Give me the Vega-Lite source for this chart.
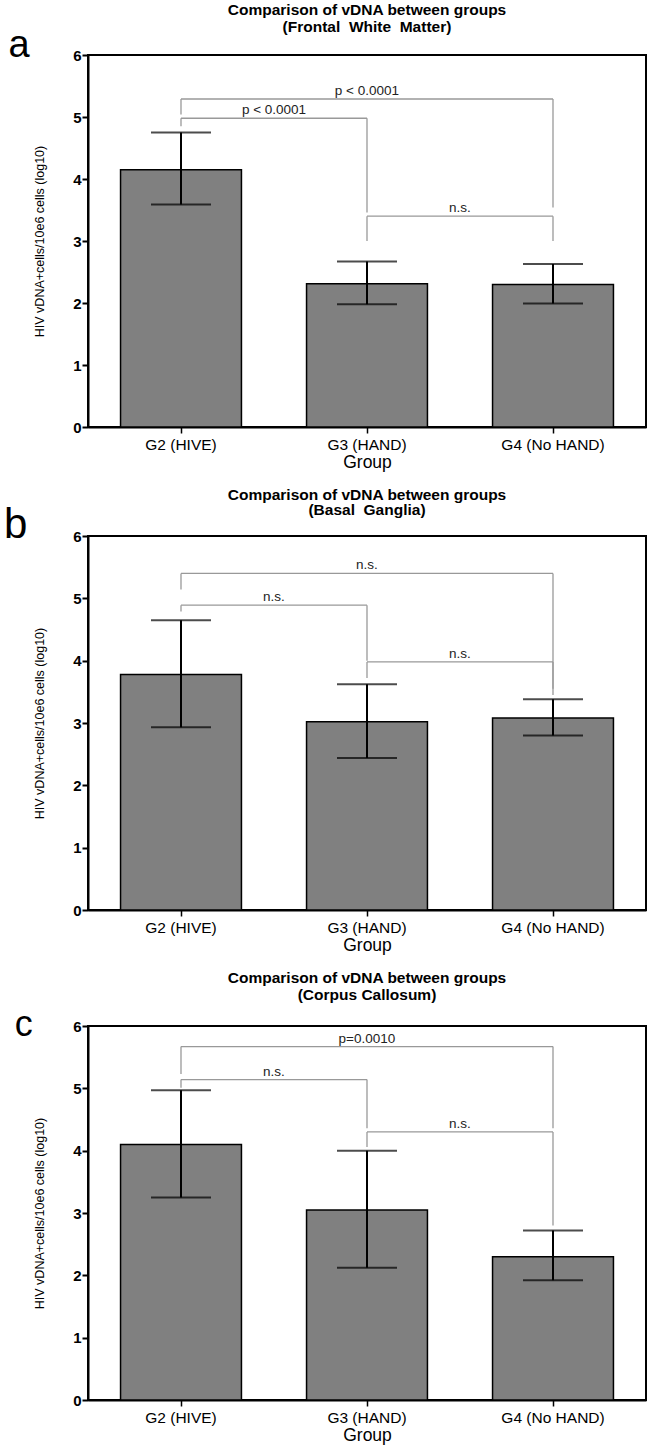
{
  "$schema": "https://vega.github.io/schema/vega-lite/v6.json",
  "padding": {"left": 3, "top": 1, "right": 5, "bottom": 1},
  "spacing": 14,
  "datasets": {
    "bars": [
      {"panel": "a", "group": "G2 (HIVE)", "mean": 4.15, "lo": 3.59, "hi": 4.75},
      {"panel": "a", "group": "G3 (HAND)", "mean": 2.31, "lo": 1.98, "hi": 2.67},
      {"panel": "a", "group": "G4 (No HAND)", "mean": 2.30, "lo": 1.99, "hi": 2.63},
      {"panel": "b", "group": "G2 (HIVE)", "mean": 3.78, "lo": 2.93, "hi": 4.65},
      {"panel": "b", "group": "G3 (HAND)", "mean": 3.02, "lo": 2.44, "hi": 3.62},
      {"panel": "b", "group": "G4 (No HAND)", "mean": 3.08, "lo": 2.80, "hi": 3.38},
      {"panel": "c", "group": "G2 (HIVE)", "mean": 4.10, "lo": 3.25, "hi": 4.97},
      {"panel": "c", "group": "G3 (HAND)", "mean": 3.05, "lo": 2.12, "hi": 4.00},
      {"panel": "c", "group": "G4 (No HAND)", "mean": 2.30, "lo": 1.92, "hi": 2.72}
    ],
    "brackets": [
      {"panel": "a", "from": "G2 (HIVE)", "to": "G3 (HAND)", "span": 1, "level": 4.98, "fromEnd": 4.85, "toEnd": 3.46, "label": "p < 0.0001"},
      {"panel": "a", "from": "G2 (HIVE)", "to": "G4 (No HAND)", "span": 2, "level": 5.29, "fromEnd": 5.04, "toEnd": 3.54, "label": "p < 0.0001"},
      {"panel": "a", "from": "G3 (HAND)", "to": "G4 (No HAND)", "span": 1, "level": 3.40, "fromEnd": 3.0, "toEnd": 3.0, "label": "n.s."},
      {"panel": "b", "from": "G2 (HIVE)", "to": "G3 (HAND)", "span": 1, "level": 4.89, "fromEnd": 4.79, "toEnd": 4.0, "label": "n.s."},
      {"panel": "b", "from": "G2 (HIVE)", "to": "G4 (No HAND)", "span": 2, "level": 5.40, "fromEnd": 5.14, "toEnd": 3.55, "label": "n.s."},
      {"panel": "b", "from": "G3 (HAND)", "to": "G4 (No HAND)", "span": 1, "level": 3.98, "fromEnd": 3.72, "toEnd": 3.45, "label": "n.s."},
      {"panel": "c", "from": "G2 (HIVE)", "to": "G3 (HAND)", "span": 1, "level": 5.14, "fromEnd": 5.01, "toEnd": 4.36, "label": "n.s."},
      {"panel": "c", "from": "G2 (HIVE)", "to": "G4 (No HAND)", "span": 2, "level": 5.67, "fromEnd": 5.23, "toEnd": 4.36, "label": "p=0.0010"},
      {"panel": "c", "from": "G3 (HAND)", "to": "G4 (No HAND)", "span": 1, "level": 4.30, "fromEnd": 4.06, "toEnd": 2.8, "label": "n.s."}
    ]
  },
  "vconcat": [
    {
      "title": {"text": "a", "orient": "left", "anchor": "end", "angle": 0, "align": "right", "baseline": "top", "fontSize": 38, "fontWeight": "normal", "offset": -18, "dy": 25},
      "vconcat": [
        {
          "width": 558, "height": 372,
          "title": {"text": ["Comparison of vDNA between groups", "(Frontal\u00a0 White\u00a0 Matter)"], "offset": 13},
          "encoding": {
            "x": {"field": "group", "type": "nominal", "title": "Group", "sort": null, "scale": {"paddingInner": 0.35, "paddingOuter": 0.175}}
          },
          "layer": [
            {"data": {"name": "bars"}, "transform": [{"filter": "datum.panel === 'a'"}], "mark": {"type": "bar", "fill": "#808080", "stroke": "black", "strokeWidth": 1.5},
             "encoding": {"y": {"field": "mean", "type": "quantitative", "stack": null, "title": "HIV vDNA+cells/10e6 cells (log10)", "scale": {"domain": [0, 6], "nice": false}, "axis": {"values": [0, 1, 2, 3, 4, 5, 6], "format": "d"}}}},
            {"data": {"name": "bars"}, "transform": [{"filter": "datum.panel === 'a'"}], "mark": {"type": "rule", "color": "black", "strokeWidth": 2},
             "encoding": {"y": {"field": "lo", "type": "quantitative"}, "y2": {"field": "hi"}}},
            {"data": {"name": "bars"}, "transform": [{"filter": "datum.panel === 'a'"}], "mark": {"type": "tick", "color": "black", "thickness": 2, "size": 60, "orient": "horizontal"},
             "encoding": {"y": {"field": "hi", "type": "quantitative"}}},
            {"data": {"name": "bars"}, "transform": [{"filter": "datum.panel === 'a'"}], "mark": {"type": "tick", "color": "black", "thickness": 2, "size": 60, "orient": "horizontal"},
             "encoding": {"y": {"field": "lo", "type": "quantitative"}}},
            {"data": {"name": "brackets"}, "transform": [{"filter": "datum.panel === 'a'"}], "mark": {"type": "rule", "color": "#999999", "strokeWidth": 1.3},
             "encoding": {"x": {"field": "from", "type": "nominal"}, "x2": {"field": "to"}, "y": {"field": "level", "type": "quantitative"}}},
            {"data": {"name": "brackets"}, "transform": [{"filter": "datum.panel === 'a'"}], "mark": {"type": "rule", "color": "#999999", "strokeWidth": 1.3},
             "encoding": {"x": {"field": "from", "type": "nominal"}, "y": {"field": "level", "type": "quantitative"}, "y2": {"field": "fromEnd"}}},
            {"data": {"name": "brackets"}, "transform": [{"filter": "datum.panel === 'a'"}], "mark": {"type": "rule", "color": "#999999", "strokeWidth": 1.3},
             "encoding": {"x": {"field": "to", "type": "nominal"}, "y": {"field": "level", "type": "quantitative"}, "y2": {"field": "toEnd"}}},
            {"data": {"name": "brackets"}, "transform": [{"filter": "datum.panel === 'a' && datum.span === 1"}], "mark": {"type": "text", "fontSize": 13.5, "color": "#222222", "baseline": "alphabetic", "dy": -4},
             "encoding": {"x": {"field": "from", "type": "nominal", "bandPosition": 1.269}, "y": {"field": "level", "type": "quantitative"}, "text": {"field": "label"}}},
            {"data": {"name": "brackets"}, "transform": [{"filter": "datum.panel === 'a' && datum.span === 2"}], "mark": {"type": "text", "fontSize": 13.5, "color": "#222222", "baseline": "alphabetic", "dy": -4},
             "encoding": {"x": {"field": "from", "type": "nominal", "bandPosition": 2.038}, "y": {"field": "level", "type": "quantitative"}, "text": {"field": "label"}}}
          ]
        }
      ]
    },
    {
      "title": {"text": "b", "orient": "left", "anchor": "end", "angle": 0, "align": "right", "baseline": "top", "fontSize": 42, "fontWeight": "normal", "offset": -18, "dy": 18},
      "vconcat": [
        {
          "width": 558, "height": 374,
          "title": {"text": ["Comparison of vDNA between groups", "(Basal\u00a0 Ganglia)"], "offset": 11, "lineHeight": 15},
          "encoding": {
            "x": {"field": "group", "type": "nominal", "title": "Group", "sort": null, "scale": {"paddingInner": 0.35, "paddingOuter": 0.175}}
          },
          "layer": [
            {"data": {"name": "bars"}, "transform": [{"filter": "datum.panel === 'b'"}], "mark": {"type": "bar", "fill": "#808080", "stroke": "black", "strokeWidth": 1.5},
             "encoding": {"y": {"field": "mean", "type": "quantitative", "stack": null, "title": "HIV vDNA+cells/10e6 cells (log10)", "scale": {"domain": [0, 6], "nice": false}, "axis": {"values": [0, 1, 2, 3, 4, 5, 6], "format": "d"}}}},
            {"data": {"name": "bars"}, "transform": [{"filter": "datum.panel === 'b'"}], "mark": {"type": "rule", "color": "black", "strokeWidth": 2},
             "encoding": {"y": {"field": "lo", "type": "quantitative"}, "y2": {"field": "hi"}}},
            {"data": {"name": "bars"}, "transform": [{"filter": "datum.panel === 'b'"}], "mark": {"type": "tick", "color": "black", "thickness": 2, "size": 60, "orient": "horizontal"},
             "encoding": {"y": {"field": "hi", "type": "quantitative"}}},
            {"data": {"name": "bars"}, "transform": [{"filter": "datum.panel === 'b'"}], "mark": {"type": "tick", "color": "black", "thickness": 2, "size": 60, "orient": "horizontal"},
             "encoding": {"y": {"field": "lo", "type": "quantitative"}}},
            {"data": {"name": "brackets"}, "transform": [{"filter": "datum.panel === 'b'"}], "mark": {"type": "rule", "color": "#999999", "strokeWidth": 1.3},
             "encoding": {"x": {"field": "from", "type": "nominal"}, "x2": {"field": "to"}, "y": {"field": "level", "type": "quantitative"}}},
            {"data": {"name": "brackets"}, "transform": [{"filter": "datum.panel === 'b'"}], "mark": {"type": "rule", "color": "#999999", "strokeWidth": 1.3},
             "encoding": {"x": {"field": "from", "type": "nominal"}, "y": {"field": "level", "type": "quantitative"}, "y2": {"field": "fromEnd"}}},
            {"data": {"name": "brackets"}, "transform": [{"filter": "datum.panel === 'b'"}], "mark": {"type": "rule", "color": "#999999", "strokeWidth": 1.3},
             "encoding": {"x": {"field": "to", "type": "nominal"}, "y": {"field": "level", "type": "quantitative"}, "y2": {"field": "toEnd"}}},
            {"data": {"name": "brackets"}, "transform": [{"filter": "datum.panel === 'b' && datum.span === 1"}], "mark": {"type": "text", "fontSize": 13.5, "color": "#222222", "baseline": "alphabetic", "dy": -4},
             "encoding": {"x": {"field": "from", "type": "nominal", "bandPosition": 1.269}, "y": {"field": "level", "type": "quantitative"}, "text": {"field": "label"}}},
            {"data": {"name": "brackets"}, "transform": [{"filter": "datum.panel === 'b' && datum.span === 2"}], "mark": {"type": "text", "fontSize": 13.5, "color": "#222222", "baseline": "alphabetic", "dy": -4},
             "encoding": {"x": {"field": "from", "type": "nominal", "bandPosition": 2.038}, "y": {"field": "level", "type": "quantitative"}, "text": {"field": "label"}}}
          ]
        }
      ]
    },
    {
      "title": {"text": "c", "orient": "left", "anchor": "end", "angle": 0, "align": "right", "baseline": "top", "fontSize": 36, "fontWeight": "normal", "offset": -18, "dy": 38},
      "vconcat": [
        {
          "width": 558, "height": 374,
          "title": {"text": ["Comparison of vDNA between groups", "(Corpus Callosum)"], "offset": 16},
          "encoding": {
            "x": {"field": "group", "type": "nominal", "title": "Group", "sort": null, "scale": {"paddingInner": 0.35, "paddingOuter": 0.175}}
          },
          "layer": [
            {"data": {"name": "bars"}, "transform": [{"filter": "datum.panel === 'c'"}], "mark": {"type": "bar", "fill": "#808080", "stroke": "black", "strokeWidth": 1.5},
             "encoding": {"y": {"field": "mean", "type": "quantitative", "stack": null, "title": "HIV vDNA+cells/10e6 cells (log10)", "scale": {"domain": [0, 6], "nice": false}, "axis": {"values": [0, 1, 2, 3, 4, 5, 6], "format": "d"}}}},
            {"data": {"name": "bars"}, "transform": [{"filter": "datum.panel === 'c'"}], "mark": {"type": "rule", "color": "black", "strokeWidth": 2},
             "encoding": {"y": {"field": "lo", "type": "quantitative"}, "y2": {"field": "hi"}}},
            {"data": {"name": "bars"}, "transform": [{"filter": "datum.panel === 'c'"}], "mark": {"type": "tick", "color": "black", "thickness": 2, "size": 60, "orient": "horizontal"},
             "encoding": {"y": {"field": "hi", "type": "quantitative"}}},
            {"data": {"name": "bars"}, "transform": [{"filter": "datum.panel === 'c'"}], "mark": {"type": "tick", "color": "black", "thickness": 2, "size": 60, "orient": "horizontal"},
             "encoding": {"y": {"field": "lo", "type": "quantitative"}}},
            {"data": {"name": "brackets"}, "transform": [{"filter": "datum.panel === 'c'"}], "mark": {"type": "rule", "color": "#999999", "strokeWidth": 1.3},
             "encoding": {"x": {"field": "from", "type": "nominal"}, "x2": {"field": "to"}, "y": {"field": "level", "type": "quantitative"}}},
            {"data": {"name": "brackets"}, "transform": [{"filter": "datum.panel === 'c'"}], "mark": {"type": "rule", "color": "#999999", "strokeWidth": 1.3},
             "encoding": {"x": {"field": "from", "type": "nominal"}, "y": {"field": "level", "type": "quantitative"}, "y2": {"field": "fromEnd"}}},
            {"data": {"name": "brackets"}, "transform": [{"filter": "datum.panel === 'c'"}], "mark": {"type": "rule", "color": "#999999", "strokeWidth": 1.3},
             "encoding": {"x": {"field": "to", "type": "nominal"}, "y": {"field": "level", "type": "quantitative"}, "y2": {"field": "toEnd"}}},
            {"data": {"name": "brackets"}, "transform": [{"filter": "datum.panel === 'c' && datum.span === 1"}], "mark": {"type": "text", "fontSize": 13.5, "color": "#222222", "baseline": "alphabetic", "dy": -4},
             "encoding": {"x": {"field": "from", "type": "nominal", "bandPosition": 1.269}, "y": {"field": "level", "type": "quantitative"}, "text": {"field": "label"}}},
            {"data": {"name": "brackets"}, "transform": [{"filter": "datum.panel === 'c' && datum.span === 2"}], "mark": {"type": "text", "fontSize": 13.5, "color": "#222222", "baseline": "alphabetic", "dy": -4},
             "encoding": {"x": {"field": "from", "type": "nominal", "bandPosition": 2.038}, "y": {"field": "level", "type": "quantitative"}, "text": {"field": "label"}}}
          ]
        }
      ]
    }
  ],
  "config": {
    "font": "Liberation Sans",
    "view": {"stroke": "black", "strokeWidth": 2},
    "axis": {"grid": false, "domainColor": "black", "domainWidth": 2, "tickColor": "black", "tickWidth": 2, "tickSize": 6, "labelColor": "black", "titleColor": "black", "titleFontWeight": "normal"},
    "axisY": {"labelFontWeight": "bold", "labelFontSize": 15, "labelPadding": 1, "titleFontSize": 12.5, "titlePadding": 26},
    "axisX": {"labelAngle": 0, "labelFontSize": 15.5, "labelPadding": 4, "titleFontSize": 17.5, "titlePadding": 1, "tickWidth": 1.5},
    "title": {"fontSize": 15.5, "fontWeight": "bold", "color": "black", "lineHeight": 17, "offset": 13}
  }
}
